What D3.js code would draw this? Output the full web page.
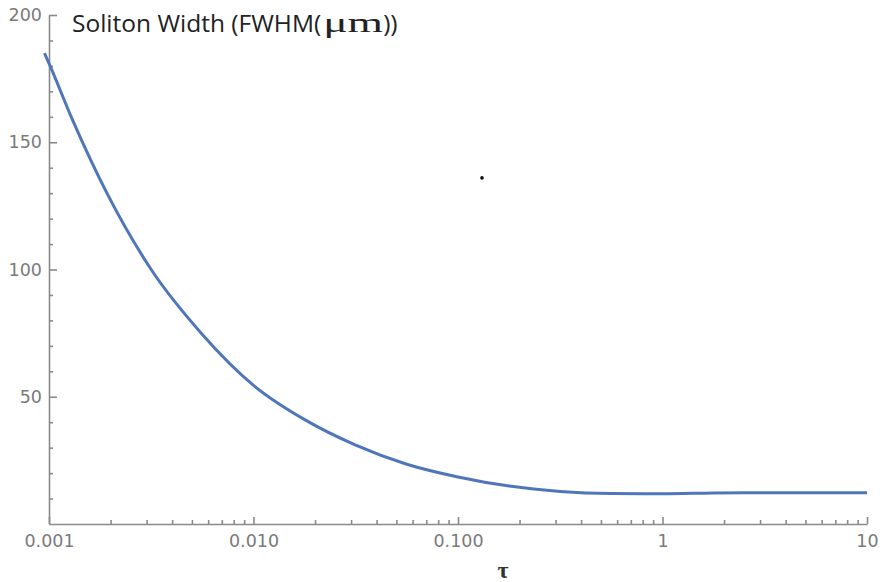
<!DOCTYPE html>
<html>
<head>
<meta charset="utf-8">
<script src="https://cdn.jsdelivr.net/npm/d3@7"></script>
<style>
    body { margin: 0; background: #fff; }
</style>
</head>
<body>
<div id="chart"></div>
<script>
/*
 * Soliton width (FWHM) vs tau, log x axis.
 * Values.
 */

var tau      = [0.00095, 0.001, 0.0013, 0.00192, 0.00316, 0.00562, 0.01, 0.0178, 0.0316, 0.0562,
                0.1, 0.178, 0.316, 0.562, 1, 1.78, 3.16, 10];
var width_um = [185, 181, 159, 130, 100, 74.5, 54.5, 41, 31, 23.5,
                18.5, 14.9, 12.8, 12.0, 11.9, 12.2, 12.3, 12.3];

// stray dot in the figure
var stray_tau   = [0.131];
var stray_width = [136];

var x_ticks       = [0.001, 0.01, 0.1, 1, 10];
var x_tick_labels = ["0.001", "0.010", "0.100", "1", "10"];
var y_ticks       = [50, 100, 150, 200];

var title_text = "Soliton Width (FWHM(";
var title_unit = "\u03BCm";
var x_label    = "\u03C4";

var W = 880, H = 582;

var svg = d3.select("#chart").append("svg")
    .attr("width", W)
    .attr("height", H);

var x_scale = d3.scaleLog()
    .domain([0.001, 10])
    .range([49, 867]);

var y_scale = d3.scaleLinear()
    .domain([0, 200])
    .range([524, 15]);

//minor ticks: 2..9 in each decade, every 10 on y
var x_minor = [];
for (var e = -3; e < 1; e++) {
    for (var m = 2; m <= 9; m++) {
        x_minor.push(m * Math.pow(10, e));
    }
}
var y_minor = d3.range(10, 200, 10).filter(function(d) { return d % 50 != 0; });

var axis_col = "#8a8a8a";
var label_col = "#7a7a7a";

//X axis
var x_axis = d3.axisBottom(x_scale)
    .tickValues(x_ticks)
    .tickFormat(function(d, i) { return x_tick_labels[i]; })
    .tickSizeInner(-7)
    .tickSizeOuter(0)
    .tickPadding(11);

svg.append("g")
    .attr("transform", "translate(0," + y_scale(0) + ")")
    .call(x_axis);

svg.append("g")
    .attr("transform", "translate(0," + y_scale(0) + ")")
    .call(d3.axisBottom(x_scale).tickValues(x_minor).tickFormat("").tickSizeInner(-4).tickSizeOuter(0))
    .select(".domain").remove();

//Y axis
var y_axis = d3.axisLeft(y_scale)
    .tickValues(y_ticks)
    .tickSizeInner(-8)
    .tickSizeOuter(0)
    .tickPadding(7);

svg.append("g")
    .attr("transform", "translate(" + x_scale(0.001) + ",0)")
    .call(y_axis);

svg.append("g")
    .attr("transform", "translate(" + x_scale(0.001) + ",0)")
    .call(d3.axisLeft(y_scale).tickValues(y_minor).tickFormat("").tickSizeInner(-4).tickSizeOuter(0))
    .select(".domain").remove();

svg.selectAll(".domain, .tick line")
    .attr("stroke", axis_col)
    .attr("stroke-width", 1.6);

svg.selectAll(".tick text")
    .attr("fill", label_col)
    .style("font-family", "'DejaVu Sans', sans-serif")
    .style("font-size", "17.5px");

//Curve
var data = tau.map(function(t, i) { return {x: t, y: width_um[i]}; });

var line = d3.line()
    .x(function(d) { return x_scale(d.x); })
    .y(function(d) { return y_scale(d.y); })
    .curve(d3.curveMonotoneX);

svg.append("path")
    .attr("d", line(data))
    .attr("fill", "none")
    .attr("stroke", "#4f76ba")
    .attr("stroke-width", 3);

//Stray dot
svg.selectAll(".stray")
    .data(stray_tau)
    .enter().append("circle")
    .attr("class", "stray")
    .attr("cx", function(d) { return x_scale(d); })
    .attr("cy", function(d, i) { return y_scale(stray_width[i]); })
    .attr("r", 1.8)
    .attr("fill", "#111");

//Title
var title = svg.append("text")
    .attr("x", 72)
    .attr("y", 32)
    .attr("fill", "#222")
    .style("font-family", "'Open Sans', sans-serif")
    .style("font-size", "24.5px")
    .text(title_text);
title.append("tspan")
    .attr("dx", 2)
    .attr("textLength", 60)
    .attr("lengthAdjust", "spacingAndGlyphs")
    .style("font-family", "'Liberation Serif', serif")
    .style("font-size", "27px")
    .text(title_unit);
title.append("tspan")
    .text("))");

//X label
svg.append("text")
    .attr("x", 503)
    .attr("y", 578)
    .attr("text-anchor", "middle")
    .attr("fill", "#333")
    .style("font-family", "'Liberation Serif', 'DejaVu Serif', serif")
    .style("font-weight", "bold")
    .style("font-size", "24px")
    .text(x_label);
</script>
</body>
</html>
